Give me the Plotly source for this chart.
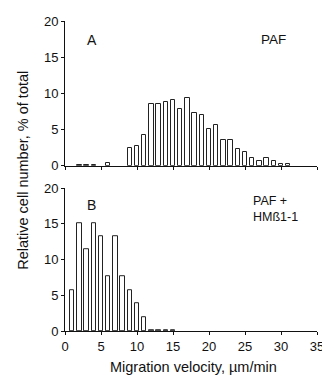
import plotly.graph_objects as go
from plotly.subplots import make_subplots

# Panel A: PAF
velocity_a = [2, 3, 4, 6, 9, 10, 11, 12, 13, 14, 15, 16, 17, 18, 19, 20, 21, 22, 23, 24, 25, 26, 27, 28, 29, 30, 31]
percent_a = [0.1, 0.1, 0.1, 0.4, 2.5, 2.7, 4.2, 8.6, 8.5, 8.8, 9.1, 7.8, 9.3, 7.3, 7.0, 5.1, 5.6, 3.6, 3.5, 2.3, 1.85, 1.1, 0.65, 1.1, 0.65, 0.3, 0.3]

# Panel B: PAF + HMß1-1
velocity_b = [1, 2, 3, 4, 5, 6, 7, 8, 9, 10, 11, 12, 13, 14, 15]
percent_b = [5.75, 15.1, 11.4, 15.1, 13.3, 7.7, 13.3, 7.7, 5.75, 3.9, 2.0, 0.08, 0.08, 0.08, 0.08]

x_ticks = [0, 5, 10, 15, 20, 25, 30, 35]
y_ticks = [0, 5, 10, 15, 20]

FONT = "Liberation Sans, Arial, sans-serif"
INK = "#111111"

fig = make_subplots(rows=2, cols=1, shared_xaxes=False, vertical_spacing=0.07)

bar_style = dict(marker=dict(color="white", line=dict(color="#222222", width=1)), width=0.62, showlegend=False)
fig.add_trace(go.Bar(x=velocity_a, y=percent_a, **bar_style), row=1, col=1)
fig.add_trace(go.Bar(x=velocity_b, y=percent_b, **bar_style), row=2, col=1)

axis_common = dict(showline=True, linecolor=INK, linewidth=1, ticks="outside", ticklen=3,
                   tickcolor=INK, tickwidth=1, showgrid=False, zeroline=False,
                   ticklabeloverflow="allow",
                   tickfont=dict(family=FONT, size=13, color=INK))

fig.update_xaxes(range=[0, 35], tickvals=x_ticks, **axis_common)
fig.update_yaxes(range=[0, 20], tickvals=y_ticks, **axis_common)
fig.update_xaxes(showticklabels=False, row=1, col=1)

# The page body has an 8px default margin, so the figure is 8px smaller
fig.update_layout(
    width=322, height=372,
    margin=dict(l=57, r=7, t=6, b=49),
    plot_bgcolor="white", paper_bgcolor="white",
    bargap=0,
    xaxis=dict(domain=[0, 1]),
    yaxis=dict(domain=[0.533, 1.0]),
    yaxis2=dict(domain=[0.0, 0.4606]),
    font=dict(family=FONT, size=13, color=INK),
)

def ann(text, x, y, size, xanchor="center", **kw):
    fig.add_annotation(x=x, y=y, xref="paper", yref="paper", text=text, showarrow=False,
                       xanchor=xanchor, yanchor="middle",
                       font=dict(family=FONT, size=size, color=INK), **kw)

ann("A", 0.1085, 0.940, 14)
ann("PAF", 0.826, 0.940, 13.5)
ann("B", 0.1047, 0.407, 14)
ann("PAF +<br>HMß1-1", 0.740, 0.394, 12.5, xanchor="left", align="left")
ann("Relative cell number, % of total", -0.1667, 0.520, 14.5, textangle=-90)
ann("Migration velocity, µm/min", 0.5116, -0.1167, 14.5)

fig.write_html("out.html")
